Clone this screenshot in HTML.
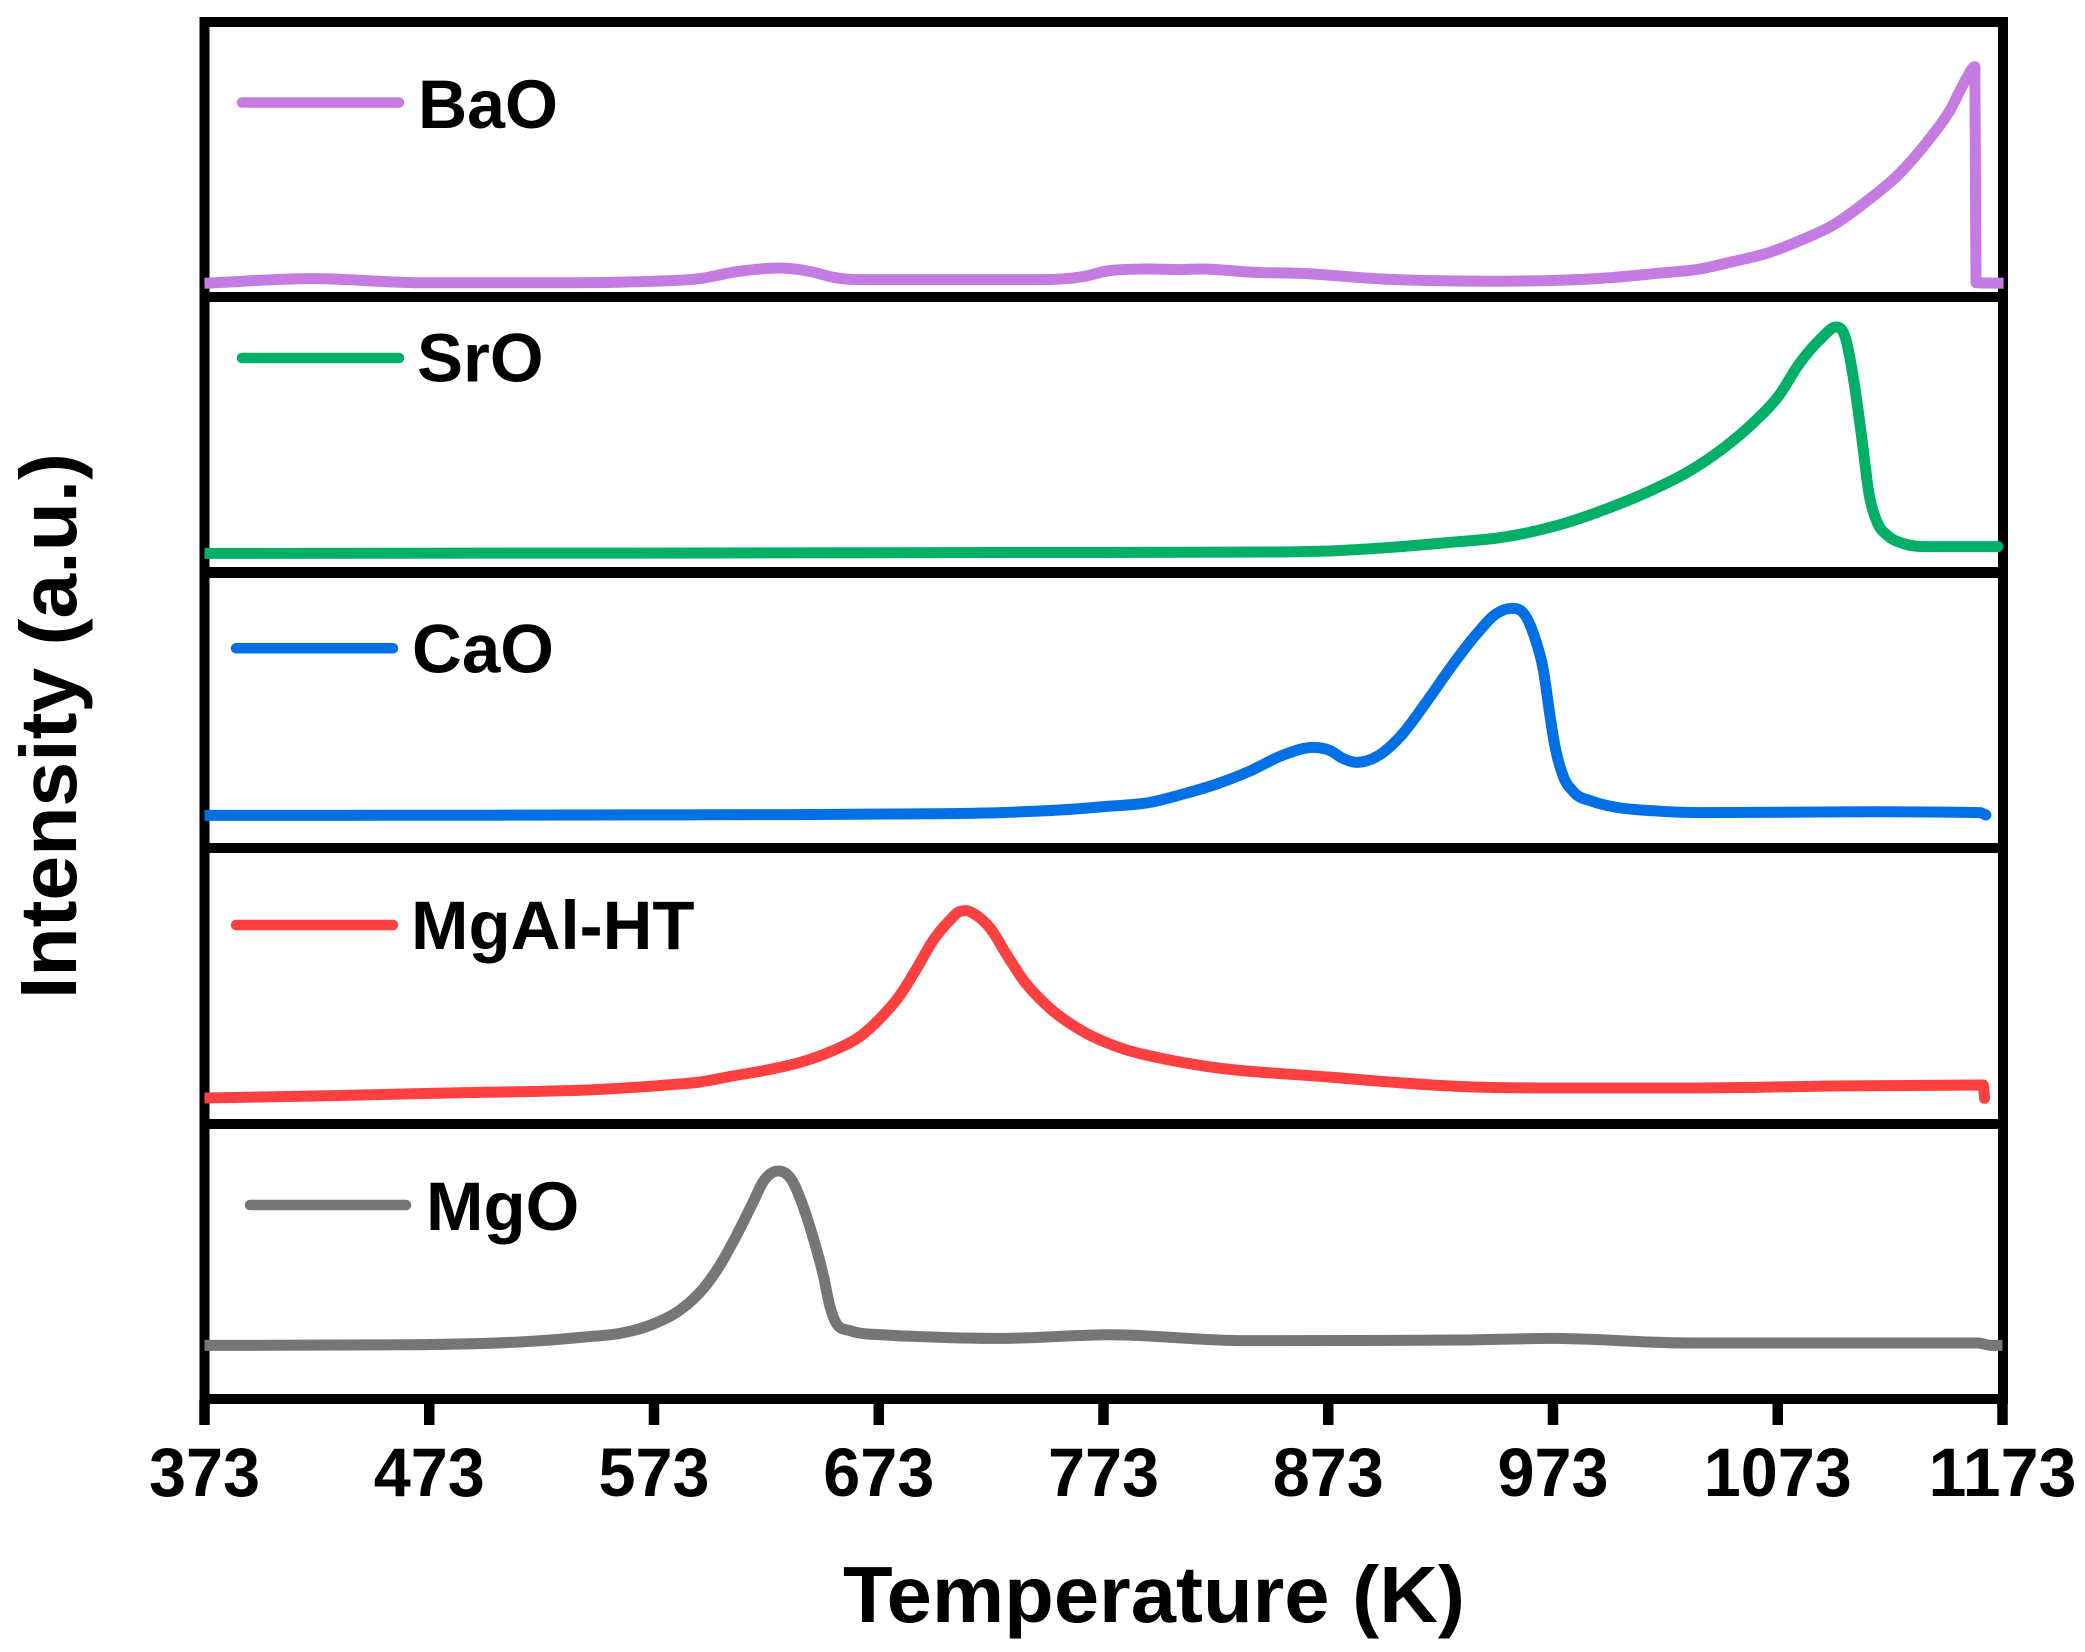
<!DOCTYPE html>
<html lang="en">
<head>
<meta charset="utf-8">
<title>Intensity vs Temperature</title>
<style>
html,body{margin:0;padding:0;background:#fff;}
svg{display:block;}
text{font-family:"Liberation Sans",Arial,sans-serif;font-weight:bold;fill:#000;}
</style>
</head>
<body>
<svg id="chart" xmlns="http://www.w3.org/2000/svg" width="2085" height="1652" viewBox="0 0 2085 1652">
  <rect x="0" y="0" width="2085" height="1652" fill="#fff"/>
  <g id="frame" fill="none" stroke="#000" stroke-width="10">
    <rect x="204.5" y="22" width="1798.5" height="1377"/>
    <line x1="200" x2="2008" y1="297" y2="297"/>
    <line x1="200" x2="2008" y1="572.5" y2="572.5" stroke-width="11"/>
    <line x1="200" x2="2008" y1="848" y2="848"/>
    <line x1="200" x2="2008" y1="1124" y2="1124"/>
  </g>
  <g id="ticks"></g>
  <g id="series" fill="none" stroke-width="11" stroke-linejoin="round"></g>

  <g stroke-width="10.5" stroke-linecap="round" font-size="69">
    <line x1="242" x2="399" y1="102.5" y2="102.5" stroke="#C47BE2"/>
    <text x="418" y="128" textLength="140" lengthAdjust="spacingAndGlyphs">BaO</text>
    <line x1="242" x2="399" y1="358" y2="358" stroke="#02AF67"/>
    <text x="417" y="381.5">SrO</text>
    <line x1="236" x2="393" y1="648.3" y2="648.3" stroke="#0070E4"/>
    <text x="412" y="672.5">CaO</text>
    <line x1="236" x2="393" y1="925" y2="925" stroke="#FF4040"/>
    <text x="411" y="949">MgAl-HT</text>
    <line x1="250" x2="406" y1="1205" y2="1205" stroke="#767676"/>
    <text x="426" y="1230">MgO</text>
  </g>

  <text x="1154" y="1622" font-size="80" text-anchor="middle" textLength="622" lengthAdjust="spacingAndGlyphs">Temperature (K)</text>
  <text transform="translate(76 726) rotate(-90)" x="0" y="0" font-size="80" text-anchor="middle" textLength="546" lengthAdjust="spacingAndGlyphs">Intensity (a.u.)</text>
</svg>
<script>
var tickLabels = [373, 473, 573, 673, 773, 873, 973, 1073, 1173];

var baoTemps = [373, 421, 470.6, 540, 570, 593.5, 610, 629, 642.8, 653, 665, 746.5, 763.9, 775.7, 794.4, 806, 816.4, 840.4, 860.5, 897, 949, 974, 999, 1020, 1038.4, 1053, 1068, 1082.9, 1097.7, 1112.7, 1127.4, 1139.4, 1149.7, 1157, 1160.7, 1161.2, 1173.5];
var baoValues = [4.4, 6.7, 4.6, 4.6, 5.3, 6.7, 10.2, 12, 10.2, 7.3, 6.2, 6.2, 7.7, 10.7, 11.5, 11.2, 11.5, 9.8, 9.3, 6.5, 5.4, 5.8, 7.2, 9.4, 11.5, 15.2, 19.3, 25.7, 33.5, 45.5, 59.5, 75, 91, 106.8, 112.6, 4.6, 4.4];

var sroTemps = [373, 600, 700, 850, 873, 903, 930, 949, 974, 999, 1019, 1032.5, 1049, 1062, 1074, 1082, 1092, 1099, 1103, 1107, 1110.5, 1113.6, 1117, 1122, 1128.7, 1140, 1171];
var sroValues = [6.8, 7, 7.2, 7.5, 8, 10, 12.6, 14.6, 20.5, 30, 39.5, 47.2, 59.6, 72, 86.5, 100.7, 114, 120, 115, 92, 63.5, 36.6, 23, 15.6, 11.8, 10.2, 10.2];

var caoTemps = [373, 500, 593, 682, 727, 762.5, 773, 793.7, 808.5, 823.4, 838.2, 853, 866.4, 873.8, 879.7, 885.7, 894.6, 905, 916.8, 927.2, 939, 948, 954.6, 960.5, 965, 968.7, 971.7, 973.9, 977.6, 982, 990.9, 1001.4, 1016.2, 1038.4, 1118.5, 1163, 1165.6];
var caoValues = [13.8, 13.9, 14.1, 14.5, 15.2, 17.2, 18.2, 20.3, 24.5, 29.5, 36, 44, 47.8, 46.2, 42.2, 40.3, 43.2, 53.2, 70.7, 87.3, 104.5, 114.8, 117.3, 114, 102.3, 86.5, 63.2, 48.2, 33.2, 25.7, 20.7, 17.8, 16.2, 15.2, 15.6, 15.2, 14];

var mgalTemps = [373, 430, 490, 549, 578.8, 593.5, 608, 623.3, 638, 652.6, 664.6, 673.6, 682.5, 689.9, 697.3, 704.7, 708.5, 712, 715.5, 722.5, 730, 737.3, 749.2, 764, 778.9, 801, 816, 873, 933, 974, 1021, 1038.4, 1097.7, 1164.4, 1165];
var mgalValues = [10.5, 11.7, 13.2, 14.8, 17, 18.5, 21.5, 24.5, 28.3, 34.2, 41.2, 50.3, 62, 75.3, 89.5, 99.5, 103.5, 104.2, 102.5, 95.5, 82, 69.5, 55.3, 43.7, 36.2, 29.8, 26.8, 21, 16.2, 15.5, 15.5, 15.5, 16.5, 17, 10.3];

var mgoTemps = [373, 463.5, 523, 544, 557.9, 572.7, 584.6, 595, 602.4, 609.8, 617.2, 621.6, 628.3, 634.3, 639.4, 643.9, 648.3, 651.3, 654.3, 660.2, 676.5, 691.3, 727, 775.9, 835.7, 932, 972, 1034, 1162, 1168, 1173];
var mgoValues = [24.3, 24.6, 26.7, 28.7, 30.3, 35, 42, 52.8, 64.5, 79.5, 96.2, 106.2, 111.5, 107, 93.7, 77.8, 59.5, 43.7, 35, 31.7, 29.5, 28.7, 27.8, 29.6, 26.7, 27, 27.8, 25.5, 25.5, 24.3, 24.3];

var SVG_NS = 'http://www.w3.org/2000/svg';

function xScale(temp) {
  return 204.5 + (temp - 373) * 2.2475;
}

function yScale(panelBottom, value) {
  return panelBottom - value * 2;
}

function smoothPath(xs, ys) {
  var n = xs.length;
  var slopes = [];
  var tangents = [];
  var i;
  for (i = 0; i < n - 1; i++) {
    slopes.push((ys[i + 1] - ys[i]) / (xs[i + 1] - xs[i]));
  }
  tangents.push(slopes[0]);
  for (i = 1; i < n - 1; i++) {
    if (slopes[i - 1] * slopes[i] <= 0) {
      tangents.push(0);
    } else {
      var h0 = xs[i] - xs[i - 1];
      var h1 = xs[i + 1] - xs[i];
      var avg = (h1 * slopes[i - 1] + h0 * slopes[i]) / (h0 + h1);
      var limit = 3 * Math.min(Math.abs(slopes[i - 1]), Math.abs(slopes[i]));
      tangents.push(Math.sign(avg) * Math.min(Math.abs(avg), limit));
    }
  }
  tangents.push(slopes[n - 2]);
  var d = 'M' + xs[0].toFixed(2) + ' ' + ys[0].toFixed(2);
  for (i = 0; i < n - 1; i++) {
    var dx = (xs[i + 1] - xs[i]) / 3;
    d += 'C' + (xs[i] + dx).toFixed(2) + ' ' + (ys[i] + tangents[i] * dx).toFixed(2) +
      ' ' + (xs[i + 1] - dx).toFixed(2) + ' ' + (ys[i + 1] - tangents[i + 1] * dx).toFixed(2) +
      ' ' + xs[i + 1].toFixed(2) + ' ' + ys[i + 1].toFixed(2);
  }
  return d;
}

function drawSeries(name, temps, values, panelBottom, color, roundEnd) {
  var group = document.getElementById('series');
  var path = document.createElementNS(SVG_NS, 'path');
  var xs = temps.map(function (t) { return xScale(t); });
  var ys = values.map(function (v) { return yScale(panelBottom, v); });
  path.setAttribute('d', smoothPath(xs, ys));
  path.setAttribute('stroke', color);
  
  
  group.appendChild(path);
  if (roundEnd) {
    var cap = document.createElementNS(SVG_NS, 'circle');
    cap.setAttribute('cx', xs[xs.length - 1]);
    cap.setAttribute('cy', ys[ys.length - 1]);
    cap.setAttribute('r', 5.5);
    cap.setAttribute('fill', color);
    
    
    group.appendChild(cap);
  }
}

drawSeries('series-bao', baoTemps, baoValues, 292, '#C47BE2', false);
drawSeries('series-sro', sroTemps, sroValues, 567, '#02AF67', true);
drawSeries('series-cao', caoTemps, caoValues, 843, '#0070E4', true);
drawSeries('series-mgal-ht', mgalTemps, mgalValues, 1119, '#FF4040', true);
drawSeries('series-mgo', mgoTemps, mgoValues, 1394, '#767676', false);

tickLabels.forEach(function (t) {
  var g = document.getElementById('ticks');
  var mark = document.createElementNS(SVG_NS, 'rect');
  mark.setAttribute('x', xScale(t) - 5.25);
  mark.setAttribute('y', 1400);
  mark.setAttribute('width', 10.5);
  mark.setAttribute('height', 25);
  mark.setAttribute('fill', '#000');
  
  
  g.appendChild(mark);
  var label = document.createElementNS(SVG_NS, 'text');
  label.setAttribute('x', xScale(t));
  label.setAttribute('y', 1496);
  label.setAttribute('font-size', 69);
  label.setAttribute('text-anchor', 'middle');
  label.setAttribute('textLength', String(t).length > 3 ? 148 : 111);
  label.setAttribute('lengthAdjust', 'spacingAndGlyphs');
  
  
  label.textContent = String(t);
  g.appendChild(label);
});
</script>
</body>
</html>
